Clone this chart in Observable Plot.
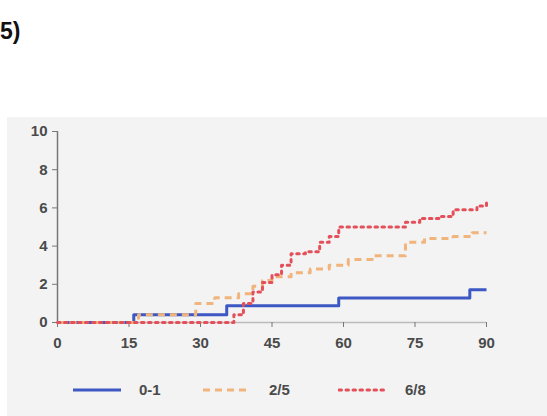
<!DOCTYPE html>
<html>
<head>
<meta charset="utf-8">
<script src="https://cdn.jsdelivr.net/npm/d3@7"></script>
<script src="https://cdn.jsdelivr.net/npm/@observablehq/plot@0.6"></script>
<style>
  html, body { margin: 0; padding: 0; background: #fff; }
  body { width: 547px; height: 416px; position: relative; overflow: hidden; font-family: "Liberation Sans", Arial, sans-serif; }
  #title { position: absolute; left: 0; top: 18px; font-size: 23px; font-weight: bold; color: #111; }
  #panel { position: absolute; left: 7px; top: 117px; width: 540px; height: 299px; background: #f3f3f3; }
  #chart { position: absolute; left: 0; top: 0; }
  #legend { position: absolute; left: 0; top: 264px; width: 540px; height: 20px; }
  .item { position: absolute; top: 0; display: flex; align-items: center; font-size: 15px; font-weight: bold; color: #4a4a4a; }
  .item svg { margin-right: 17px; }
</style>
</head>
<body>
<div id="title">5)</div>
<div id="panel">
  <div id="chart"></div>
  <div id="legend"></div>
</div>
<script>
// Series: 0-1
const tBlue = [0, 16, 35.5, 59, 86.5, 90];
const vBlue = [0, 0.4, 0.88, 1.28, 1.72, 1.72];
// Series: 2/5
const tOrange = [0, 17, 29, 33, 38, 41, 43, 45, 49, 53, 57, 61, 66, 73, 77, 83, 87, 90];
const vOrange = [0, 0.4, 1.0, 1.3, 1.5, 1.9, 2.2, 2.4, 2.6, 2.8, 3.0, 3.3, 3.5, 4.2, 4.4, 4.5, 4.7, 4.7];
// Series: 6/8
const tRed = [0, 37, 39, 41, 43, 45, 47, 49, 52, 55, 57, 59, 73, 76, 80, 83, 86, 88, 90];
const vRed = [0, 0.4, 1.0, 1.6, 2.1, 2.5, 3.0, 3.6, 3.7, 4.2, 4.5, 5.0, 5.25, 5.45, 5.55, 5.9, 5.9, 6.1, 6.4];

const seriesNames = ["0-1", "2/5", "6/8"];
const seriesColors = ["#3d58c4", "#f0b47c", "#e4505a"];
const seriesDash = [null, "7,5", "2.5,4.5"];
const xTicks = [0, 15, 30, 45, 60, 75, 90];
const yTicks = [0, 2, 4, 6, 8, 10];

const toRows = (t, v) => t.map((d, i) => ({x: d, y: v[i]}));
const rows = [toRows(tBlue, vBlue), toRows(tOrange, vOrange), toRows(tRed, vRed)];

const axisColor = "#777";
const chart = Plot.plot({
  width: 540,
  height: 240,
  marginLeft: 50,
  marginRight: 61,
  marginTop: 14,
  marginBottom: 35,
  style: {background: "transparent", fontFamily: "Liberation Sans, Arial, sans-serif", fontSize: "15px", fontWeight: "bold", color: "#4a4a4a"},
  x: {domain: [0, 90]},
  y: {domain: [0, 10]},
  marks: [
    Plot.ruleX([0], {y1: 0, y2: 10, stroke: axisColor, strokeWidth: 1.5}),
    Plot.ruleY([0], {x1: 0, x2: 90, stroke: "#bbb", strokeWidth: 1.5}),
    Plot.axisX({ticks: xTicks, tickSize: 5, tickPadding: 10, stroke: axisColor, fill: "#4a4a4a", label: null, tickFormat: d => String(d)}),
    Plot.axisY({ticks: yTicks, tickSize: 5, tickPadding: 5, stroke: axisColor, fill: "#4a4a4a", label: null, tickFormat: d => String(d)}),
    ...rows.map((r, i) => Plot.line(r, {
      x: "x", y: "y", curve: "step-after",
      stroke: seriesColors[i], strokeWidth: 3,
      strokeDasharray: seriesDash[i], strokeLinecap: i === 2 ? "round" : "butt"
    }))
  ]
});
document.getElementById("chart").appendChild(chart);

// Legend
const legend = document.getElementById("legend");
const legendX = [65, 195, 331];
seriesNames.forEach((name, i) => {
  const item = document.createElement("div");
  item.className = "item";
  item.style.left = legendX[i] + "px";
  const ns = "http://www.w3.org/2000/svg";
  const svg = document.createElementNS(ns, "svg");
  svg.setAttribute("width", 50);
  svg.setAttribute("height", 10);
  const line = document.createElementNS(ns, "line");
  line.setAttribute("x1", 1); line.setAttribute("x2", 49);
  line.setAttribute("y1", 5); line.setAttribute("y2", 5);
  line.setAttribute("stroke", seriesColors[i]);
  line.setAttribute("stroke-width", 3);
  if (seriesDash[i]) line.setAttribute("stroke-dasharray", seriesDash[i]);
  if (i === 2) line.setAttribute("stroke-linecap", "round");
  svg.appendChild(line);
  item.appendChild(svg);
  const label = document.createElement("span");
  label.textContent = name;
  item.appendChild(label);
  legend.appendChild(item);
});
</script>
</body>
</html>
